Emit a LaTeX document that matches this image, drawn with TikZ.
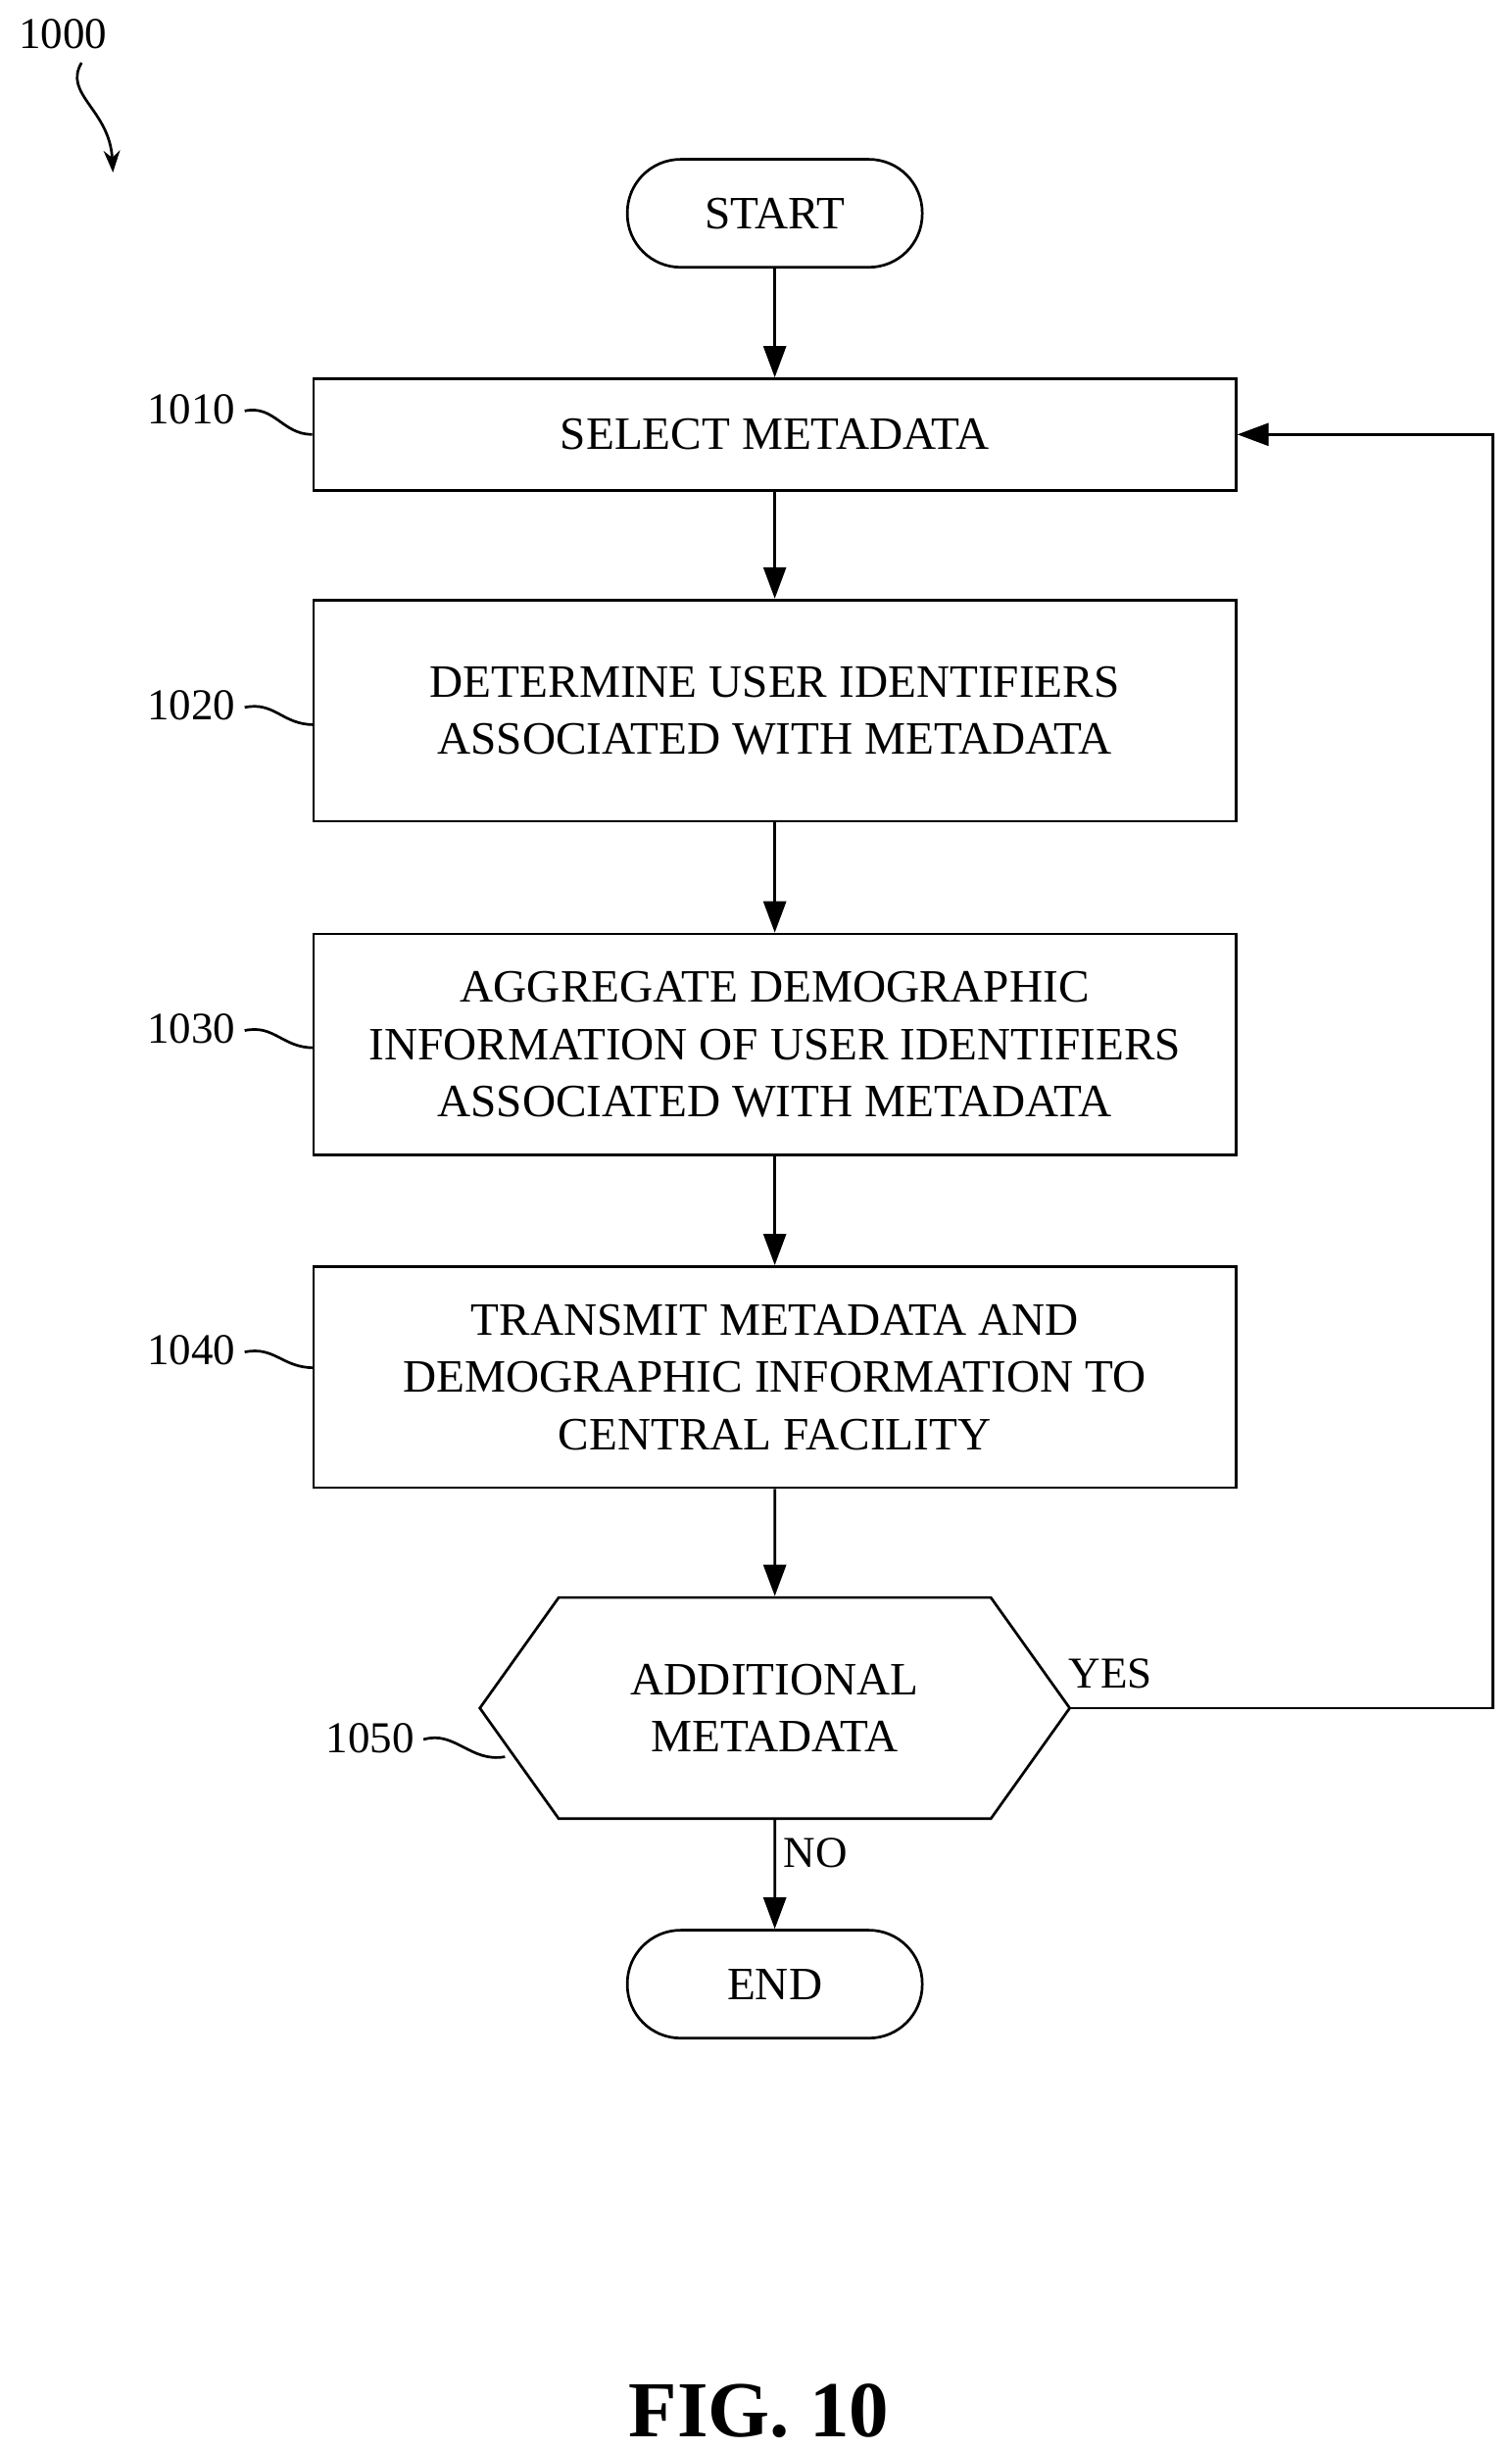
\documentclass[tikz,border=0pt]{standalone}
\usepackage{fontspec}
\setmainfont{Liberation Serif}
\usetikzlibrary{arrows.meta,positioning,shapes.symbols,calc}

\tikzset{
  stepbox/.style={draw, line width=1.2pt, rectangle, inner sep=0pt, minimum width=14.7cm, align=center, font=\fontsize{21}{26}\selectfont},
  term/.style={draw, line width=1.2pt, rounded corners=0.85cm, inner sep=0pt, minimum width=4.7cm, minimum height=1.72cm, font=\fontsize{21}{26}\selectfont},
  flow/.style={line width=1.2pt,-{Triangle[length=5mm,width=3.6mm]}},
  refnum/.style={font=\fontsize{20}{24}\selectfont},
}

\begin{document}
\begin{tikzpicture}[x=0.025cm, y=-0.025cm]
  \useasboundingbox (0,0) rectangle (964,1562);

  \node[term] at (494,136) (start) {START};
  \node[stepbox, minimum height=1.775cm] at (494,277) (select) {SELECT METADATA};
  \node[stepbox, minimum height=3.525cm] at (494,453) (determine) {DETERMINE USER IDENTIFIERS\\ASSOCIATED WITH METADATA};
  \node[stepbox, minimum height=3.525cm] at (494,666) (aggregate) {AGGREGATE DEMOGRAPHIC\\INFORMATION OF USER IDENTIFIERS\\ASSOCIATED WITH METADATA};
  \node[stepbox, minimum height=3.525cm] at (494,878) (transmit) {TRANSMIT METADATA AND\\DEMOGRAPHIC INFORMATION TO\\CENTRAL FACILITY};
  \node[draw, line width=1.2pt, signal, signal to=east and west, signal pointer angle=109, inner sep=0pt,
        minimum width=9.4cm, minimum height=3.525cm, align=center, font=\fontsize{21}{26}\selectfont]
        at (494,1089) (more) {ADDITIONAL\\METADATA};
  \node[term] at (494,1265) (end) {END};

  \draw[flow] (start) -- (select);
  \draw[flow] (select) -- (determine);
  \draw[flow] (determine) -- (aggregate);
  \draw[flow] (aggregate) -- (transmit);
  \draw[flow] (transmit) -- (more);
  \draw[flow] (more) -- node[right, refnum, pos=0.3] {NO} (end);
  \coordinate (loop) at (952,1089);
  \draw[flow] (more.east) -- (loop) |- (select.east);
  \node[refnum] at (708,1067) (yes) {YES};

  % reference numerals
  \node[refnum] at (122,261) (r1010) {1010};
  \node[refnum] at (122,450) (r1020) {1020};
  \node[refnum] at (122,656) (r1030) {1030};
  \node[refnum] at (122,861) (r1040) {1040};
  \node[refnum] at (236,1108) (r1050) {1050};
  \draw[line width=1.2pt] (156,262) .. controls (175,258) and (180,277) .. (select.west);
  \draw[line width=1.2pt] (156,451) .. controls (175,447) and (180,462) .. (200,462);
  \draw[line width=1.2pt] (156,657) .. controls (175,653) and (180,668) .. (200,668);
  \draw[line width=1.2pt] (156,862) .. controls (175,858) and (180,872) .. (200,872);
  \draw[line width=1.2pt] (270,1109) .. controls (290,1103) and (300,1124) .. (322,1120);

  \node[refnum] at (40,22) (r1000) {1000};
  \draw[line width=1.2pt,-{Stealth[length=3.5mm]}] (52,40) .. controls (40,60) and (70,70) .. (72,110);

  \node[font=\bfseries\fontsize{36}{40}\selectfont] at (484,1537) (fig) {FIG. 10};
\end{tikzpicture}
\end{document}
